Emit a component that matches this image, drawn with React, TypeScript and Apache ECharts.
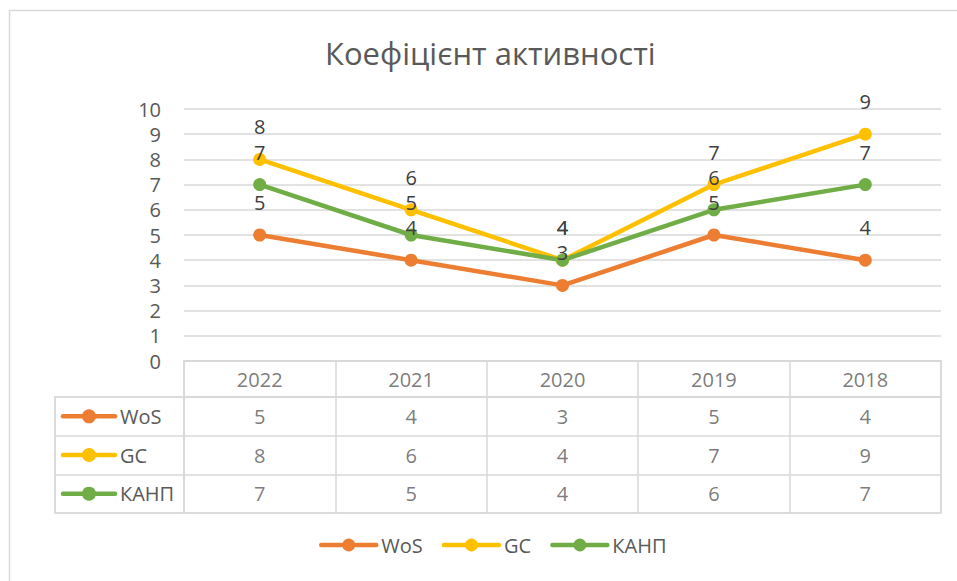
import React, { useEffect, useRef } from "react";
import * as echarts from "echarts";

const years = ["2022", "2021", "2020", "2019", "2018"];
const seriesNames = ["WoS", "GC", "КАНП"];
const wosValues = [5, 4, 3, 5, 4];
const gcValues = [8, 6, 4, 7, 9];
const kanpValues = [7, 5, 4, 6, 7];
const seriesColors = ["#ED7D31", "#FFC000", "#70AD47"];
const chartTitle = "Коефіцієнт активності";

const FONT = "'Open Sans', 'Noto Sans', sans-serif";
const TEXT = "#595959";
const GRIDC = "#D9D9D9";

export default function App() {
  const ref = useRef<HTMLDivElement>(null);
  useEffect(() => {
    document.body.style.margin = "0";
    const chart = echarts.init(ref.current!, null, { renderer: "svg" });
    const values = [wosValues, gcValues, kanpValues];

    const lineSeries = seriesNames.map((name, i) => ({
      name,
      type: "line",
      xAxisIndex: 0,
      yAxisIndex: 0,
      data: values[i],
      symbol: "circle",
      symbolSize: 13,
      color: seriesColors[i],
      lineStyle: { width: 4.5, color: seriesColors[i] },
      itemStyle: { color: seriesColors[i] },
      label: {
        show: true,
        position: "top",
        distance: 16,
        fontSize: 20,
        fontFamily: FONT,
        color: "#404040",
      },
    }));

    const headerData = years.map((y, c) => [c, 0, y]);
    const tableData: any[] = [];
    values.forEach((arr, r) => arr.forEach((v, c) => tableData.push([c, r, v])));

    const cellLabel = {
      show: true,
      position: "inside",
      fontSize: 20,
      fontFamily: FONT,
      color: TEXT,
      formatter: (p: any) => String(p.data[2]),
    };

    const catX = (idx: number, data: string[]) => ({
      type: "category",
      gridIndex: idx,
      data,
      boundaryGap: true,
      axisLine: { show: false },
      axisTick: { show: false },
      axisLabel: { show: false },
      splitLine: { show: true, interval: 0, lineStyle: { color: GRIDC, width: 1.5 } },
    });
    const catY = (idx: number, data: string[]) => ({
      type: "category",
      gridIndex: idx,
      data,
      inverse: true,
      boundaryGap: true,
      axisLine: { show: false },
      axisTick: { show: false },
      axisLabel: { show: false },
      splitLine: { show: true, interval: 0, lineStyle: { color: GRIDC, width: 1.5 } },
    });

    const option: any = {
      animation: false,
      title: {
        text: chartTitle,
        left: 320,
        top: 32,
        textStyle: { fontSize: 31, fontWeight: "normal", fontFamily: FONT, color: TEXT },
      },
      legend: {
        data: seriesNames,
        bottom: 21,
        left: 314,
        itemWidth: 55,
        itemHeight: 16,
        itemGap: 19,
        lineStyle: { width: 4.5, cap: "round" },
        textStyle: { fontSize: 20, fontFamily: FONT, color: TEXT },
      },
      graphic: [
        {
          type: "rect",
          shape: { x: 9.5, y: 10.5, width: 1000, height: 1000 },
          style: { fill: "none", stroke: GRIDC, lineWidth: 1.5 },
          silent: true,
        },
      ],
      grid: [
        { left: 184, right: 16, top: 109, height: 252 },
        { left: 184, right: 16, top: 361, height: 36, show: true, borderColor: GRIDC, borderWidth: 1.5 },
        { left: 184, right: 16, top: 397, height: 116, show: true, borderColor: GRIDC, borderWidth: 1.5 },
        { left: 55, width: 129, top: 397, height: 116, show: true, borderColor: GRIDC, borderWidth: 1.5 },
      ],
      xAxis: [
        {
          type: "category",
          gridIndex: 0,
          data: years,
          boundaryGap: true,
          axisLine: { show: true, lineStyle: { color: GRIDC, width: 1.5 } },
          axisTick: { show: false },
          axisLabel: { show: false },
          splitLine: { show: false },
        },
        catX(1, years),
        catX(2, years),
        catX(3, [""]),
      ],
      yAxis: [
        {
          type: "value",
          gridIndex: 0,
          min: 0,
          max: 10,
          interval: 1,
          axisLine: { show: false },
          axisTick: { show: false },
          axisLabel: { fontSize: 20, fontFamily: FONT, color: TEXT, margin: 23 },
          splitLine: { show: true, lineStyle: { color: GRIDC, width: 1.5 } },
        },
        catY(1, ["header"]),
        catY(2, seriesNames),
        catY(3, seriesNames),
      ],
      series: [
        ...lineSeries,
        {
          type: "scatter",
          xAxisIndex: 1,
          yAxisIndex: 1,
          data: headerData,
          symbolSize: 1,
          itemStyle: { color: "rgba(0,0,0,0)" },
          label: cellLabel,
          silent: true,
        },
        {
          type: "scatter",
          xAxisIndex: 2,
          yAxisIndex: 2,
          data: tableData,
          symbolSize: 1,
          itemStyle: { color: "rgba(0,0,0,0)" },
          label: cellLabel,
          silent: true,
        },
        {
          type: "custom",
          xAxisIndex: 3,
          yAxisIndex: 3,
          data: seriesNames.map((_, i) => [0, i]),
          silent: true,
          renderItem: (params: any, api: any) => {
            const idx = params.dataIndex;
            const c = api.coord([0, api.value(1)]);
            const sz = api.size([1, 1]);
            const left = c[0] - sz[0] / 2;
            return {
              type: "group",
              children: [
                {
                  type: "line",
                  shape: { x1: left + 8, y1: c[1], x2: left + 60, y2: c[1] },
                  style: { stroke: seriesColors[idx], lineWidth: 4.5, lineCap: "round" },
                },
                {
                  type: "circle",
                  shape: { cx: left + 34, cy: c[1], r: 7 },
                  style: { fill: seriesColors[idx] },
                },
                {
                  type: "text",
                  x: left + 65,
                  y: c[1],
                  style: {
                    text: seriesNames[idx],
                    fill: TEXT,
                    fontSize: 20,
                    fontFamily: FONT,
                    align: "left",
                    verticalAlign: "middle",
                  },
                },
              ],
            };
          },
        },
      ],
    };
    chart.setOption(option);
    return () => chart.dispose();
  }, []);
  return (
    <div
      ref={ref}
      style={{ position: "absolute", left: 0, top: 0, width: 957, height: 581, background: "#fff" }}
    />
  );
}
